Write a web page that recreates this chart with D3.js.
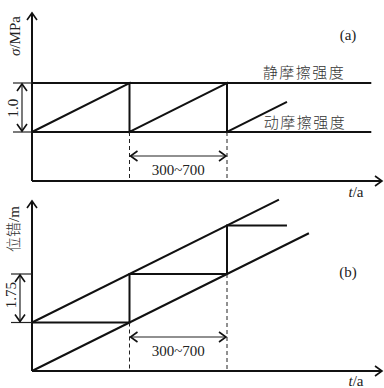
<!DOCTYPE html>
<html>
<head>
<meta charset="utf-8">
<script src="https://cdn.jsdelivr.net/npm/d3@7"></script>
<style>
  body { margin: 0; background: #fff; }
  svg { display: block; }
  .ln { stroke: #111; stroke-width: 2; fill: none; }
  .dash { stroke: #222; stroke-width: 1; stroke-dasharray: 4,3; fill: none; }
  .thin { stroke: #222; stroke-width: 1.2; fill: none; }
  .serif { font-family: "Liberation Serif", "DejaVu Serif", serif; fill: #222; }
  .cjk { font-family: "Noto Sans CJK SC", sans-serif; fill: #333; font-weight: 300; }
</style>
</head>
<body>
<script>
// time in cycles, stress in units of (static - dynamic)
var staticLevel = [2.0];
var dynamicLevel = [1.0];
var sawtooth = [[0, 1], [1, 2], [1, 1], [2, 2], [2, 1], [2.615, 1.615]];
var strengthEnd = 3.48;
var cycleMarks = [1, 2];

// displacement panel
var upperLine = [[0, 1], [2.533, 3.533]];
var lowerLine = [[0, 0], [2.84, 2.84]];
var slipSteps = [[0, 1], [1, 1], [1, 2], [2, 2], [2, 3], [2.615, 3]];

var w = 384, h = 388;

var svg = d3.select('body').append('svg')
  .attr('width', w)
  .attr('height', h);

var defs = svg.append('defs');
defs.append('marker')
  .attr('id', 'arr')
  .attr('viewBox', '-8 -6 10 12')
  .attr('refX', 0).attr('refY', 0)
  .attr('markerWidth', 10).attr('markerHeight', 12)
  .attr('markerUnits', 'userSpaceOnUse')
  .attr('orient', 'auto-start-reverse')
  .append('path')
  .attr('d', 'M -7 -5 L 0 0 L -7 5')
  .attr('fill', 'none').attr('stroke', '#111').attr('stroke-width', 1.6);

var x = d3.scaleLinear().domain([0, 3.6]).range([32, 383]);

// ---------- panel (a)
var ya = d3.scaleLinear().domain([0, 1]).range([181, 132]);
var lineA = d3.line().x(d => x(d[0])).y(d => ya(d[1]));

svg.append('line').attr('class', 'ln')
  .attr('x1', x(0)).attr('y1', ya(0)).attr('x2', x(0)).attr('y2', 13)
  .attr('marker-end', 'url(#arr)');
svg.append('line').attr('class', 'ln')
  .attr('x1', x(0)).attr('y1', ya(0)).attr('x2', x(3.6) - 1).attr('y2', ya(0))
  .attr('marker-end', 'url(#arr)');

staticLevel.concat(dynamicLevel).forEach(function(v) {
  svg.append('path').attr('class', 'ln').attr('d', lineA([[0, v], [strengthEnd, v]]));
  svg.append('line').attr('class', 'thin')
    .attr('x1', 13).attr('x2', x(0)).attr('y1', ya(v)).attr('y2', ya(v));
});
svg.append('path').attr('class', 'ln').attr('d', lineA(sawtooth));

svg.append('line').attr('class', 'thin')
  .attr('x1', 22).attr('x2', 22)
  .attr('y1', ya(dynamicLevel[0]) - 1).attr('y2', ya(staticLevel[0]) + 1)
  .attr('marker-start', 'url(#arr)').attr('marker-end', 'url(#arr)');

cycleMarks.forEach(function(c) {
  svg.append('line').attr('class', 'dash')
    .attr('x1', x(c)).attr('x2', x(c)).attr('y1', ya(1)).attr('y2', ya(0));
});
svg.append('line').attr('class', 'thin')
  .attr('x1', x(cycleMarks[0]) + 1).attr('x2', x(cycleMarks[1]) - 1)
  .attr('y1', 156).attr('y2', 156)
  .attr('marker-start', 'url(#arr)').attr('marker-end', 'url(#arr)');
svg.append('text').attr('class', 'serif')
  .attr('x', (x(cycleMarks[0]) + x(cycleMarks[1])) / 2).attr('y', 175)
  .attr('text-anchor', 'middle').attr('font-size', 15).text('300~700');

svg.append('text').attr('class', 'serif')
  .attr('transform', 'translate(20,36) rotate(-90)')
  .attr('text-anchor', 'middle').attr('font-size', 15)
  .html('<tspan font-style="italic">σ</tspan>/MPa');
svg.append('text').attr('class', 'serif')
  .attr('transform', 'translate(18,108) rotate(-90)')
  .attr('text-anchor', 'middle').attr('font-size', 15).text('1.0');
svg.append('text').attr('class', 'serif')
  .attr('x', 348).attr('y', 40).attr('text-anchor', 'middle').attr('font-size', 15).text('(a)');
svg.append('text').attr('class', 'serif')
  .attr('x', 356).attr('y', 197).attr('text-anchor', 'middle').attr('font-size', 15)
  .html('<tspan font-style="italic">t</tspan>/a');
svg.append('text').attr('class', 'cjk')
  .attr('x', 304).attr('y', 78).attr('text-anchor', 'middle').attr('font-size', 15)
  .attr('letter-spacing', 1.5).text('静摩擦强度');
svg.append('text').attr('class', 'cjk')
  .attr('x', 305).attr('y', 128).attr('text-anchor', 'middle').attr('font-size', 15)
  .attr('letter-spacing', 1.5).text('动摩擦强度');

// ---------- panel (b)
var yb = d3.scaleLinear().domain([0, 1]).range([371, 322.5]);
var lineB = d3.line().x(d => x(d[0])).y(d => yb(d[1]));

svg.append('line').attr('class', 'ln')
  .attr('x1', x(0)).attr('y1', yb(0)).attr('x2', x(0)).attr('y2', 201)
  .attr('marker-end', 'url(#arr)');
svg.append('line').attr('class', 'ln')
  .attr('x1', x(0)).attr('y1', yb(0)).attr('x2', x(3.6) - 1).attr('y2', yb(0))
  .attr('marker-end', 'url(#arr)');

svg.append('path').attr('class', 'ln').attr('d', lineB(upperLine));
svg.append('path').attr('class', 'ln').attr('d', lineB(lowerLine));
svg.append('path').attr('class', 'ln').attr('d', lineB(slipSteps));

[1, 2].forEach(function(v) {
  svg.append('line').attr('class', 'thin')
    .attr('x1', 11).attr('x2', x(0)).attr('y1', yb(v)).attr('y2', yb(v));
});
svg.append('line').attr('class', 'thin')
  .attr('x1', 20).attr('x2', 20).attr('y1', yb(1) - 1).attr('y2', yb(2) + 1)
  .attr('marker-start', 'url(#arr)').attr('marker-end', 'url(#arr)');

cycleMarks.forEach(function(c) {
  svg.append('line').attr('class', 'dash')
    .attr('x1', x(c)).attr('x2', x(c)).attr('y1', yb(c)).attr('y2', yb(0));
});
svg.append('line').attr('class', 'thin')
  .attr('x1', x(cycleMarks[0]) + 1).attr('x2', x(cycleMarks[1]) - 1)
  .attr('y1', 337).attr('y2', 337)
  .attr('marker-start', 'url(#arr)').attr('marker-end', 'url(#arr)');
svg.append('text').attr('class', 'serif')
  .attr('x', (x(cycleMarks[0]) + x(cycleMarks[1])) / 2).attr('y', 356)
  .attr('text-anchor', 'middle').attr('font-size', 15).text('300~700');

svg.append('text').attr('class', 'cjk')
  .attr('transform', 'translate(19,229) rotate(-90)')
  .attr('text-anchor', 'middle').attr('font-size', 15)
  .html('位错<tspan class="serif" font-family="Liberation Serif">/m</tspan>');
svg.append('text').attr('class', 'serif')
  .attr('transform', 'translate(16,295) rotate(-90)')
  .attr('text-anchor', 'middle').attr('font-size', 15).text('1.75');
svg.append('text').attr('class', 'serif')
  .attr('x', 348).attr('y', 277).attr('text-anchor', 'middle').attr('font-size', 15).text('(b)');
svg.append('text').attr('class', 'serif')
  .attr('x', 356).attr('y', 386).attr('text-anchor', 'middle').attr('font-size', 15)
  .html('<tspan font-style="italic">t</tspan>/a');
</script>
</body>
</html>
